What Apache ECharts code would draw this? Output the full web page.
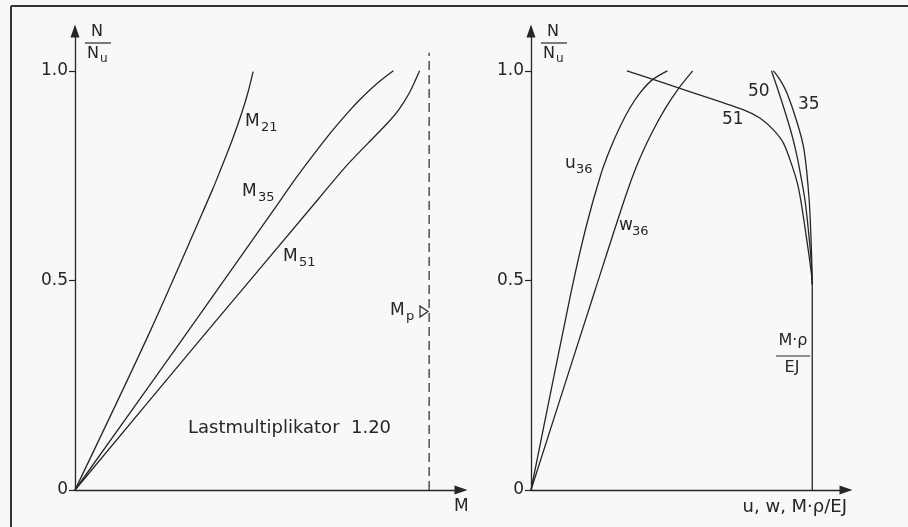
<!DOCTYPE html>
<html>
<head>
<meta charset="utf-8">
<script src="https://cdn.jsdelivr.net/npm/echarts@6/dist/echarts.min.js"></script>
<style>
  html, body { margin: 0; padding: 0; background: #f8f8f7; }
  #chart { width: 908px; height: 527px; }
</style>
</head>
<body>
<div id="chart"></div>
<script>
// N/Nu ticks (both panels)
const yTicks = [0, 0.5, 1.0]

// left panel: N/Nu over M/Mp
const m21 = [[0, 0], [0.214, 0.382], [0.388, 0.716], [0.411, 0.764], [0.444, 0.835], [0.471, 0.900], [0.488, 0.947], [0.503, 0.998]]
const m35 = [[0, 0], [0.302, 0.358], [0.584, 0.696], [0.629, 0.750], [0.713, 0.843], [0.769, 0.899], [0.804, 0.931], [0.849, 0.967], [0.899, 1.0]]
const m51 = [[0, 0], [0.353, 0.358], [0.689, 0.696], [0.765, 0.772], [0.827, 0.827], [0.882, 0.875], [0.914, 0.907], [0.944, 0.947], [0.973, 1.0]]
const mpLine = [[1.0, 0], [1.0, 1.043]]

// right panel: u, w and M*rho/EJ over N/Nu
const u36 = [[0, 0], [0.142, 0.470], [0.196, 0.628], [0.248, 0.752], [0.280, 0.811], [0.316, 0.866], [0.352, 0.912], [0.387, 0.947], [0.432, 0.979], [0.485, 1.0]]
const w36 = [[0, 0], [0.228, 0.477], [0.336, 0.700], [0.380, 0.780], [0.428, 0.850], [0.477, 0.910], [0.527, 0.960], [0.575, 1.0]]
const k51 = [[0.341, 1.0], [0.548, 0.954], [0.756, 0.907], [0.815, 0.887], [0.862, 0.859], [0.898, 0.827], [0.929, 0.772], [0.947, 0.732], [0.959, 0.692], [0.977, 0.613], [0.993, 0.537], [1.0, 0.49], [1.0, 0]]
const k50 = [[0.855, 1.0], [0.878, 0.955], [0.901, 0.907], [0.926, 0.851], [0.941, 0.811], [0.953, 0.772], [0.974, 0.692], [0.993, 0.573], [0.999, 0.513], [1.0, 0.49]]
const k35 = [[0.862, 1.0], [0.885, 0.979], [0.910, 0.947], [0.947, 0.875], [0.971, 0.811], [0.989, 0.692], [0.997, 0.573], [1.0, 0.49]]

const ink = '#262626'
const font = 'DejaVu Sans'

function txt(x, y, text, size, align) {
  return {
    type: 'text', x, y, silent: true,
    style: { text, fontSize: size || 17, fontFamily: font, fill: ink, align: align || 'left', verticalAlign: 'top' }
  }
}
// letter with subscript
function subLabel(x, y, main, sub, w, size) {
  size = size || 17
  return [txt(x, y, main, size), txt(x + w, y + Math.round(size * 0.45), sub, Math.round(size * 0.78))]
}
// N over N_u
function nFrac(cx, y) {
  return [
    txt(cx - 1, y, 'N', 16, 'center'),
    { type: 'line', silent: true, shape: { x1: cx - 13, y1: y + 19, x2: cx + 13, y2: y + 19 }, style: { stroke: ink, lineWidth: 1.2 } },
    ...subLabel(cx - 11, y + 22, 'N', 'u', 13, 16)
  ]
}

function curve(data, idx, extra) {
  return Object.assign({
    type: 'line', xAxisIndex: idx, yAxisIndex: idx, data,
    smooth: 0.3, symbol: 'none', silent: true,
    lineStyle: { color: ink, width: 1.3 }
  }, extra || {})
}

function xAx(idx, max) {
  return {
    gridIndex: idx, type: 'value', min: 0, max,
    axisLine: { symbol: ['none', 'triangle'], symbolSize: [9, 13], lineStyle: { color: ink, width: 1.3 } },
    axisTick: { show: false }, axisLabel: { show: false }, splitLine: { show: false }
  }
}
function yAx(idx) {
  return {
    gridIndex: idx, type: 'value', min: 0, max: 1.095,
    axisLine: { show: true, onZero: false, symbol: ['none', 'triangle'], symbolSize: [9, 13], lineStyle: { color: ink, width: 1.3 } },
    axisTick: { show: true, length: 6, customValues: yTicks, lineStyle: { color: ink, width: 1.2 } },
    axisLabel: {
      customValues: yTicks, margin: 7, color: ink, fontSize: 17, fontFamily: font,
      formatter: v => v === 0 ? '0' : v.toFixed(1)
    },
    splitLine: { show: false }
  }
}

const chart = echarts.init(document.getElementById('chart'))
chart.setOption({
  animation: false,
  backgroundColor: '#f8f8f7',
  grid: [
    { left: 75, top: 31, width: 386, height: 459 },
    { left: 531, top: 31, width: 315, height: 459 }
  ],
  xAxis: [xAx(0, 1.09), xAx(1, 1.12)],
  yAxis: [yAx(0), yAx(1)],
  series: [
    curve(m21, 0),
    curve(m35, 0),
    curve(m51, 0),
    curve(mpLine, 0, { smooth: false, lineStyle: { color: ink, width: 1.2, type: [9, 5] } }),
    curve(u36, 1),
    curve(w36, 1),
    curve(k51, 1),
    curve(k50, 1),
    curve(k35, 1)
  ],
  graphic: [
    // frame
    { type: 'line', silent: true, shape: { x1: 11, y1: 6, x2: 908, y2: 6 }, style: { stroke: '#333', lineWidth: 2 } },
    { type: 'line', silent: true, shape: { x1: 11, y1: 6, x2: 11, y2: 527 }, style: { stroke: '#333', lineWidth: 2 } },
    ...nFrac(98, 24),
    ...nFrac(554, 24),
    ...subLabel(245, 113, 'M', '21', 16),
    ...subLabel(242, 183, 'M', '35', 16),
    ...subLabel(283, 248, 'M', '51', 16),
    ...subLabel(390, 302, 'M', 'p', 16),
    { type: 'polygon', silent: true, shape: { points: [[420, 306], [428, 311.5], [420, 317]] }, style: { fill: 'none', stroke: ink, lineWidth: 1.2 } },
    txt(188, 419, 'Lastmultiplikator  1.20', 18),
    txt(454, 498, 'M', 17),
    ...subLabel(565, 155, 'u', '36', 11),
    ...subLabel(619, 217, 'w', '36', 13),
    txt(722, 111, '51', 17),
    txt(748, 83, '50', 17),
    txt(798, 96, '35', 17),
    txt(793, 333, 'M\u00b7\u03c1', 16, 'center'),
    { type: 'line', silent: true, shape: { x1: 776, y1: 356, x2: 810, y2: 356 }, style: { stroke: ink, lineWidth: 1.2 } },
    txt(792, 360, 'EJ', 16, 'center'),
    txt(847, 498, 'u, w, M\u00b7\u03c1/EJ', 18, 'right')
  ]
})
</script>
</body>
</html>
